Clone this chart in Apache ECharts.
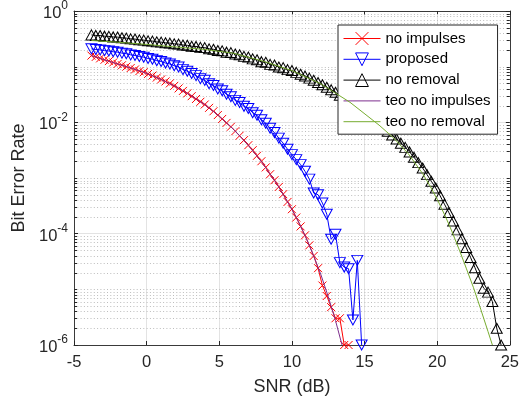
<!DOCTYPE html>
<html><head><meta charset="utf-8">
<script src="https://cdn.jsdelivr.net/npm/echarts@6/dist/echarts.min.js"></script>
<style>html,body{margin:0;padding:0;background:#fff}#c{width:522px;height:402px}</style>
</head><body><div id="c"></div>
<script>
// SNR grid (dB)
const snr = [-3.8,-3.5,-3.2,-2.9,-2.6,-2.3,-2.0,-1.7,-1.4,-1.1,-0.8,-0.5,-0.2,0.1,0.4,0.7,1.0,1.3,1.6,1.9,2.2,2.5,2.8,3.1,3.4,3.7,4.0,4.3,4.6,4.9,5.2,5.5,5.8,6.1,6.4,6.7,7.0,7.3,7.6,7.9,8.2,8.5,8.8,9.1,9.4,9.7,10.0,10.3,10.6,10.9,11.2,11.5,11.8,12.1,12.4,12.7,13.0,13.3,13.6,13.9,14.2,14.5,14.8,15.1,15.4,15.7,16.0,16.3,16.6,16.9,17.2,17.5,17.8,18.1,18.4,18.7,19.0,19.3,19.6,19.9,20.2,20.5,20.8,21.1,21.4,21.7,22.0,22.3,22.6,22.9,23.2,23.5,23.8,24.1,24.4];
const berNoImpulses = [0.158,0.150,0.141,0.133,0.126,0.119,0.112,0.106,0.100,0.0944,0.0891,0.0832,0.0794,0.0741,0.0692,0.0638,0.0589,0.0543,0.0501,0.0452,0.0407,0.0367,0.0331,0.0295,0.0263,0.0234,0.0209,0.0182,0.0158,0.0135,0.0115,0.00977,0.00832,0.00692,0.00575,0.00479,0.00389,0.00316,0.00251,0.00200,0.00155,0.00117,9.12e-4,6.92e-4,5.13e-4,3.72e-4,2.75e-4,1.95e-4,1.35e-4,9.33e-5,6.17e-5,3.98e-5,2.40e-5,1.17e-5,7.59e-6,4.79e-6,3.02e-6,3.02e-6,1e-6,1e-6];
const berProposed = [0.209,0.203,0.200,0.194,0.191,0.185,0.182,0.175,0.171,0.163,0.159,0.152,0.148,0.140,0.136,0.128,0.124,0.116,0.112,0.104,0.0985,0.0885,0.0830,0.0752,0.0690,0.0610,0.0568,0.0495,0.0458,0.0398,0.0368,0.0320,0.0289,0.0248,0.0227,0.0194,0.0177,0.0149,0.0134,0.0111,0.00966,0.00785,0.00655,0.00520,0.00422,0.00328,0.00263,0.00214,0.00174,0.00132,9.55e-4,5.37e-4,5.01e-4,3.55e-4,2.24e-4,7.94e-5,9.77e-5,3.02e-5,2.51e-5,2.34e-5,2.82e-6,3.31e-5,1e-6];
const berNoRemoval = [0.372,0.364,0.362,0.353,0.350,0.342,0.340,0.330,0.326,0.316,0.313,0.303,0.300,0.291,0.288,0.279,0.276,0.268,0.265,0.257,0.254,0.245,0.242,0.233,0.231,0.222,0.220,0.209,0.205,0.195,0.192,0.182,0.179,0.169,0.164,0.153,0.149,0.138,0.133,0.123,0.120,0.110,0.107,0.0985,0.0960,0.0885,0.0851,0.0789,0.0731,0.0678,0.0622,0.0569,0.0520,0.0473,0.0427,0.0385,0.0347,0.0306,0.0270,0.0239,0.0210,0.0184,0.0161,0.0141,0.0123,0.0107,0.00933,0.00802,0.00689,0.00592,0.00501,0.00422,0.00355,0.00294,0.00236,0.00189,0.00151,0.00115,8.71e-4,6.61e-4,4.79e-4,3.39e-4,2.40e-4,1.69e-4,1.17e-4,8.11e-5,5.62e-5,3.72e-5,2.45e-5,1.58e-5,1.05e-5,8.91e-6,6.03e-6,2.00e-6,1.00e-6];
const snrTheoNoImp = [-3.8,-3,-2,-1,0,1,2,3,4,5,6,7,8,9,10,10.5,11,11.5,12,12.5,13,13.45];
const berTheoNoImp = [0.158,0.135,0.112,0.0933,0.0759,0.0589,0.0437,0.0309,0.0209,0.0129,0.00741,0.00389,0.00182,7.59e-4,2.75e-4,1.55e-4,8.13e-5,3.98e-5,1.82e-5,7.41e-6,2.75e-6,1e-6];
const snrTheoNoRem = [-3.8,-2,0,2,4,6,8,10,12,14,16,17,18,19,19.5,20,20.6,21,21.55,22,22.5,23,23.5,23.8];
const berTheoNoRem = [0.295,0.275,0.251,0.226,0.204,0.174,0.126,0.0851,0.0490,0.0229,0.00891,0.00525,0.00275,0.00120,7.24e-4,4.17e-4,1.95e-4,1.12e-4,4.90e-5,2.40e-5,1.07e-5,4.37e-6,1.74e-6,1e-6];
const seriesNames = ['no impulses','proposed','no removal','teo no impulses','teo no removal'];
const xMin = -5, xMax = 25, xStep = 5;
const yMin = 1e-6, yMax = 1;
const yMinorTicks = [2e-6,3e-6,4e-6,5e-6,6e-6,7e-6,8e-6,9e-6,1e-5,2e-5,3e-5,4e-5,5e-5,6e-5,7e-5,8e-5,9e-5,2e-4,3e-4,4e-4,5e-4,6e-4,7e-4,8e-4,9e-4,1e-3,2e-3,3e-3,4e-3,5e-3,6e-3,7e-3,8e-3,9e-3,2e-2,3e-2,4e-2,5e-2,6e-2,7e-2,8e-2,9e-2,1e-1,2e-1,3e-1,4e-1,5e-1,6e-1,7e-1,8e-1,9e-1];

const FONT = '"Liberation Sans", Arial, Helvetica, sans-serif';
const AX = '#262626';
const pairs = (xs, ys) => ys.map((y, i) => [xs[i], y]);
const crossPath = 'path://M0,0L10,10M10,0L0,10';

const chart = echarts.init(document.getElementById('c'), null, {renderer: 'canvas'});
const baseX = {
  type: 'value', min: xMin, max: xMax, interval: xStep,
  axisLine: {show: true, onZero: false, lineStyle: {color: '#3a3a3a', width: 1}},
  axisTick: {show: true, inside: true, length: 4, lineStyle: {color: AX}},
};
const baseY = {
  type: 'log', logBase: 10, min: yMin, max: yMax, interval: 2, splitNumber: 3,
  axisLine: {show: true, onZero: false, lineStyle: {color: '#3a3a3a', width: 1}},
  axisTick: {show: true, inside: true, length: 4, lineStyle: {color: AX}},
};
const option = {
  animation: false,
  backgroundColor: '#fff',
  grid: {left: 74, right: 8, top: 8, bottom: 57, containLabel: false},
  xAxis: [
    Object.assign({}, baseX, {
      position: 'bottom',
      name: 'SNR (dB)', nameLocation: 'middle', nameGap: 33,
      nameTextStyle: {fontFamily: FONT, fontSize: 18, color: AX},
      axisLabel: {fontFamily: FONT, fontSize: 16.5, color: AX, margin: 9, showMinLabel: true, showMaxLabel: true},
      splitLine: {show: true, lineStyle: {color: '#e3e3e3', width: 1}}
    }),
    Object.assign({}, baseX, {position: 'top', axisLabel: {show: false}, splitLine: {show: false}})
  ],
  yAxis: [
    Object.assign({}, baseY, {
      position: 'left',
      name: 'Bit Error Rate', nameLocation: 'middle', nameGap: 46,
      nameTextStyle: {fontFamily: FONT, fontSize: 18, color: AX},
      axisLabel: {
        margin: 6, showMinLabel: true, showMaxLabel: true,
        formatter: v => '{b|10}{s|' + Math.round(Math.log10(v)) + '}',
        rich: {
          b: {fontFamily: FONT, fontSize: 16.5, color: AX, lineHeight: 22, verticalAlign: 'bottom'},
          s: {fontFamily: FONT, fontSize: 12, color: AX, lineHeight: 22, verticalAlign: 'top'}
        }
      },
      splitLine: {show: true, lineStyle: {color: '#e3e3e3', width: 1}}
    }),
    Object.assign({}, baseY, {position: 'right', axisLabel: {show: false}, splitLine: {show: false}})
  ],
  legend: {
    data: seriesNames,
    orient: 'vertical', left: 338, top: 25,
    padding: [6, 7, 5, 5],
    itemWidth: 37, itemHeight: 16, itemGap: 5.8,
    backgroundColor: '#fff', borderColor: AX, borderWidth: 1,
    textStyle: {fontFamily: FONT, fontSize: 15, color: '#000'},
    itemStyle: {borderWidth: 1},
    lineStyle: {width: 1},
    selectedMode: false
  },
  series: [
    {
      type: 'custom', name: 'minorgrid', silent: true, z: 1,
      xAxisIndex: 0, yAxisIndex: 0,
      data: yMinorTicks.map(v => [xMin, v]),
      renderItem: function (params, api) {
        const v = api.value(1);
        const p1 = api.coord([xMin, v]);
        const p2 = api.coord([xMax, v]);
        const y = Math.round(p1[1]) + 0.5;
        return {type: 'group', children: [
          {type: 'line', shape: {x1: p1[0], y1: y, x2: p2[0], y2: y}, style: {stroke: '#bdbdbd', lineWidth: 1, lineDash: [1, 2.3]}},
          {type: 'line', shape: {x1: p1[0], y1: y, x2: p1[0] + 3, y2: y}, style: {stroke: AX, lineWidth: 1}},
          {type: 'line', shape: {x1: p2[0], y1: y, x2: p2[0] - 3, y2: y}, style: {stroke: AX, lineWidth: 1}}
        ]};
      }
    },
    {
      name: seriesNames[0], type: 'line', z: 3, data: pairs(snr, berNoImpulses),
      symbol: crossPath, symbolSize: 8, showAllSymbol: true,
      itemStyle: {color: 'rgba(0,0,0,0)', borderColor: '#ff0000', borderWidth: 1},
      lineStyle: {color: '#ff0000', width: 1}
    },
    {
      name: seriesNames[1], type: 'line', z: 3, data: pairs(snr, berProposed),
      symbol: 'triangle', symbolRotate: 180, symbolSize: [11, 10], showAllSymbol: true,
      itemStyle: {color: 'rgba(0,0,0,0)', borderColor: '#0000ff', borderWidth: 1},
      lineStyle: {color: '#0000ff', width: 1}
    },
    {
      name: seriesNames[2], type: 'line', z: 3, data: pairs(snr, berNoRemoval),
      symbol: 'triangle', symbolSize: [11, 10], showAllSymbol: true,
      itemStyle: {color: 'rgba(0,0,0,0)', borderColor: '#000000', borderWidth: 1},
      lineStyle: {color: '#000000', width: 1}
    },
    {
      name: seriesNames[3], type: 'line', z: 4, data: pairs(snrTheoNoImp, berTheoNoImp),
      symbol: 'none',
      itemStyle: {color: 'rgba(0,0,0,0)', borderColor: 'rgba(0,0,0,0)', borderWidth: 0},
      lineStyle: {color: '#7E2F8E', width: 1}
    },
    {
      name: seriesNames[4], type: 'line', z: 4, data: pairs(snrTheoNoRem, berTheoNoRem),
      symbol: 'none',
      itemStyle: {color: 'rgba(0,0,0,0)', borderColor: 'rgba(0,0,0,0)', borderWidth: 0},
      lineStyle: {color: '#77AC30', width: 1}
    }
  ]
};
chart.setOption(option);
</script>
</body></html>
